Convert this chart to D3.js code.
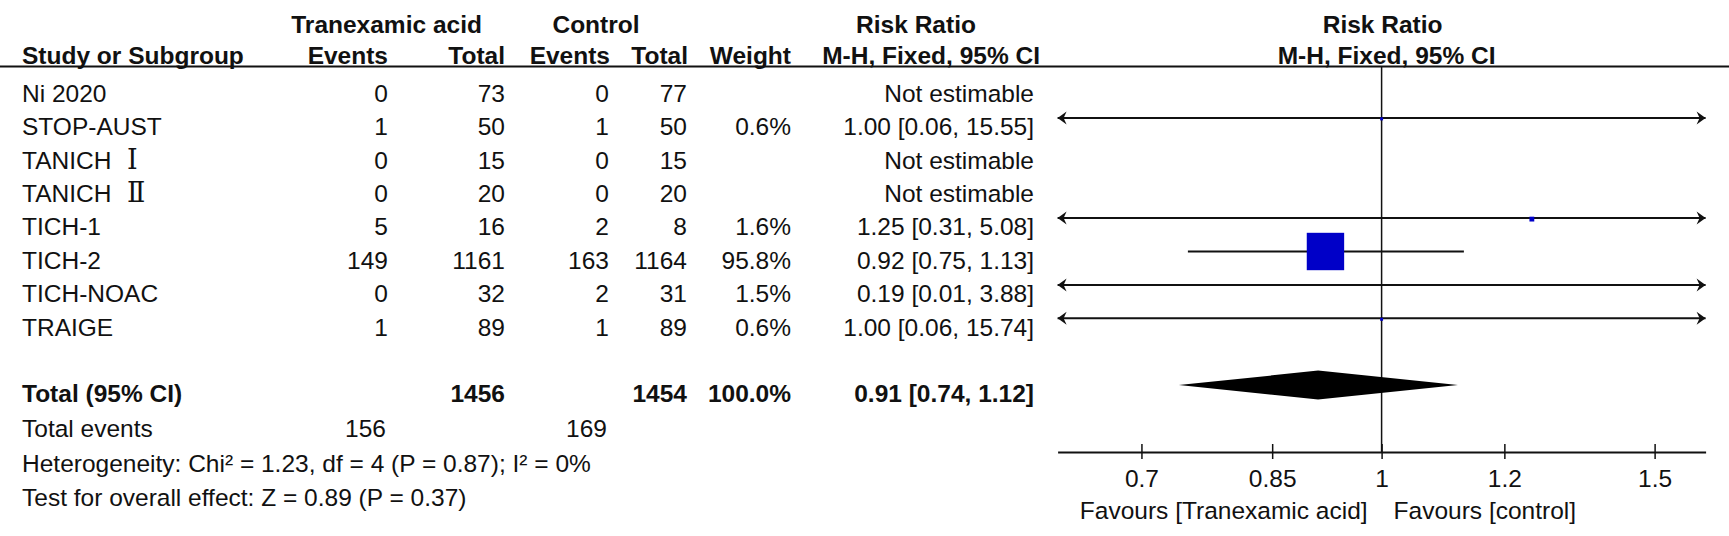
<!DOCTYPE html>
<html>
<head>
<meta charset="utf-8">
<script src="https://cdn.jsdelivr.net/npm/d3@7"></script>
<style>
  body { margin:0; background:#fff; }
  svg text { font-family: "Liberation Sans", Arial, sans-serif; font-size:24.5px; fill:#111; }
</style>
</head>
<body>
<svg></svg>
<script>
//data
var studies = ["Ni 2020","STOP-AUST","TANICH \u2160","TANICH \u2161","TICH-1","TICH-2","TICH-NOAC","TRAIGE"];
var txEvents = [0,1,0,0,5,149,0,1];
var txTotal = [73,50,15,20,16,1161,32,89];
var ctEvents = [0,1,0,0,2,163,2,1];
var ctTotal = [77,50,15,20,8,1164,31,89];
var weights = [null,0.6,null,null,1.6,95.8,1.5,0.6];
var rr = [null,1.00,null,null,1.25,0.92,0.19,1.00];
var ciLow = [null,0.06,null,null,0.31,0.75,0.01,0.06];
var ciHigh = [null,15.55,null,null,5.08,1.13,3.88,15.74];
var pooled = {rr:0.91, lo:0.74, hi:1.12};
var totals = {tx:1456, ct:1454, weight:"100.0%", txEvents:156, ctEvents:169};
var footnotes = ["Heterogeneity: Chi\u00b2 = 1.23, df = 4 (P = 0.87); I\u00b2 = 0%",
                 "Test for overall effect: Z = 0.89 (P = 0.37)"];
var ticks = [0.7,0.85,1,1.2,1.5];
var favours = ["Favours [Tranexamic acid]","Favours [control]"];

var screen = {width:1729, height:536};

var svg = d3.select('svg')
          .attr('width',screen.width)
          .attr('height',screen.height);

// columns (right edges)
var col = {name:22, txEv:388, txTot:505, ctEv:609, ctTot:687, wt:791, ci:1034};

var yRow = d3.scaleLinear().domain([0,1]).range([93,126.4]);
var xScale = d3.scaleLog()
              .domain([1/1.618,1.618])
              .range([1057.6,1705.6]);
var axisY = 452;
var markOff = -8.5;

var fmt = function(v){return v.toFixed(2)};
var ciText = function(i){
  if(rr[i]==null) return "Not estimable";
  return fmt(rr[i])+" ["+fmt(ciLow[i])+", "+fmt(ciHigh[i])+"]";
};

var txt = function(x,y,s,anchor,bold){
  return svg.append('text')
    .attr('x',x).attr('y',y).attr('dy','0.36em')
    .attr('text-anchor',anchor||'start')
    .style('font-weight',bold?'bold':'normal')
    .text(s);
};

// study names, roman numerals drawn in a serif face like the original
var nameText = function(x,y,s){
  var m = s.match(/^(.*) ([\u2160-\u216B]+)$/);
  if(!m) return txt(x,y,s);
  var t = txt(x,y,m[1]);
  t.append('tspan')
    .attr('x',127)
    .style('font-family','"DejaVu Serif", "Liberation Serif", serif')
    .style('font-size','27px')
    .text(m[2]);
  return t;
};

//headers
txt(386.6,24,"Tranexamic acid","middle",true);
txt(596,24,"Control","middle",true);
txt(916,24,"Risk Ratio","middle",true);
txt(xScale(1)+1,24,"Risk Ratio","middle",true);
txt(col.name,55,"Study or Subgroup","start",true);
txt(col.txEv,55,"Events","end",true);
txt(col.txTot,55,"Total","end",true);
txt(610,55,"Events","end",true);
txt(688,55,"Total","end",true);
txt(col.wt,55,"Weight","end",true);
txt(1040,55,"M-H, Fixed, 95% CI","end",true);
txt(xScale(1)+5,55,"M-H, Fixed, 95% CI","middle",true);

svg.append('line')
  .attr('x1',0).attr('x2',screen.width)
  .attr('y1',66.5).attr('y2',66.5)
  .attr('stroke','#111').attr('stroke-width',2);

//rows
studies.forEach(function(s,i){
  var y = yRow(i);
  nameText(col.name,y,s);
  txt(col.txEv,y,txEvents[i],"end");
  txt(col.txTot,y,txTotal[i],"end");
  txt(col.ctEv,y,ctEvents[i],"end");
  txt(col.ctTot,y,ctTotal[i],"end");
  if(weights[i]!=null) txt(col.wt,y,weights[i].toFixed(1)+"%","end");
  txt(col.ci,y,ciText(i),"end");
});

//totals
var yT = yRow(9);
txt(col.name,yT,"Total (95% CI)","start",true);
txt(col.txTot,yT,totals.tx,"end",true);
txt(col.ctTot,yT,totals.ct,"end",true);
txt(col.wt,yT,totals.weight,"end",true);
txt(col.ci,yT,fmt(pooled.rr)+" ["+fmt(pooled.lo)+", "+fmt(pooled.hi)+"]","end",true);
txt(col.name,yT+35,"Total events");
txt(col.txEv-2,yT+35,totals.txEvents,"end");
txt(col.ctEv-2,yT+35,totals.ctEvents,"end");
footnotes.forEach(function(f,k){
  txt(col.name,yT+70+k*34,f);
});

//forest plot
var plot = svg.append('g').classed('plot',true);
var xMin = xScale.range()[0], xMax = xScale.range()[1];

plot.append('line')
  .attr('x1',xScale(1)).attr('x2',xScale(1))
  .attr('y1',66.5).attr('y2',axisY)
  .attr('stroke','#111').attr('stroke-width',1.5);

var arrow = function(x,y,dir){
  // dir -1 left, 1 right
  var p = d3.path();
  p.moveTo(x,y);
  p.lineTo(x-dir*9,y-6.5);
  p.lineTo(x-dir*6,y);
  p.lineTo(x-dir*9,y+6.5);
  p.closePath();
  plot.append('path').attr('d',p.toString()).attr('fill','#111');
};

var maxW = d3.max(weights);
studies.forEach(function(s,i){
  if(rr[i]==null) return;
  var y = yRow(i)+markOff;
  var lo = Math.max(ciLow[i],xScale.domain()[0]);
  var hi = Math.min(ciHigh[i],xScale.domain()[1]);
  plot.append('line')
    .attr('x1',xScale(lo)).attr('x2',xScale(hi))
    .attr('y1',y).attr('y2',y)
    .attr('stroke','#111').attr('stroke-width',2);
  if(ciLow[i]<xScale.domain()[0]) arrow(xMin,y,-1);
  if(ciHigh[i]>xScale.domain()[1]) arrow(xMax,y,1);
  var side = 37.4*Math.sqrt(weights[i]/maxW);
  if(rr[i]>=xScale.domain()[0] && rr[i]<=xScale.domain()[1]){
    plot.append('rect')
      .attr('x',xScale(rr[i])-side/2).attr('y',y-side/2+ (side<10?1:0))
      .attr('width',side).attr('height',side)
      .attr('fill','#0000c8');
  }
});

//diamond
var dy = yT+markOff;
plot.append('path')
  .attr('d',"M"+xScale(pooled.lo)+","+dy+
            "L"+xScale(pooled.rr)+","+(dy-14.5)+
            "L"+xScale(pooled.hi)+","+dy+
            "L"+xScale(pooled.rr)+","+(dy+14.5)+"Z")
  .attr('fill','#000');

//axis
var xAxis = d3.axisBottom(xScale)
              .tickValues(ticks)
              .tickFormat(function(d){return d})
              .tickSizeOuter(0)
              .tickSizeInner(7);
var ax = svg.append('g').classed('xAxis',true)
  .attr('transform','translate(0,'+axisY+')')
  .call(xAxis);
ax.select('.domain').attr('stroke','#111').attr('stroke-width',2);
ax.selectAll('.tick line').attr('y1',-8).attr('y2',7).attr('stroke','#111').attr('stroke-width',1.5);
ax.selectAll('.tick text')
  .attr('y',26).attr('dy','0.36em')
  .style('font-size','24.5px')
  .style('font-family','"Liberation Sans", Arial, sans-serif')
  .attr('fill','#111');

txt(xScale(1)-14,510,favours[0],"end");
txt(xScale(1)+12,510,favours[1],"start");
</script>
</body>
</html>
